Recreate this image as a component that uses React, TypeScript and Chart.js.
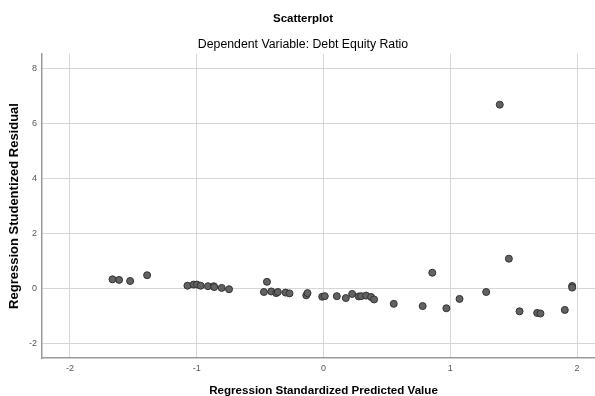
import React, { useEffect, useRef } from "react";
import { Chart, registerables } from "chart.js";

Chart.register(...registerables);

// Regression Standardized Predicted Value (x) vs Regression Studentized Residual (y)
const predicted = [
  -1.664, -1.612, -1.525, -1.391, -1.073, -1.024, -0.998, -0.969, -0.911, -0.866,
  -0.862, -0.803, -0.745, -0.446, -0.47, -0.412, -0.373, -0.36, -0.299, -0.268,
  -0.136, -0.126, -0.01, 0.01, 0.105, 0.176, 0.226, 0.278, 0.297, 0.336,
  0.375, 0.399, 0.554, 0.782, 0.858, 0.969, 1.073, 1.283, 1.39, 1.462,
  1.546, 1.685, 1.711, 1.903, 1.961, 1.961,
];
const residual = [
  0.34, 0.32, 0.28, 0.49, 0.11, 0.15, 0.15, 0.11, 0.09, 0.09,
  0.06, 0.03, -0.02, 0.25, -0.12, -0.1, -0.16, -0.12, -0.14, -0.17,
  -0.24, -0.16, -0.29, -0.27, -0.27, -0.34, -0.19, -0.28, -0.27, -0.25,
  -0.3, -0.39, -0.55, -0.63, 0.58, -0.71, -0.37, -0.12, 6.68, 1.09,
  -0.82, -0.88, -0.9, -0.77, 0.1, 0.04,
];
const xTicks = [-2, -1, 0, 1, 2];
const yTicks = [-2, 0, 2, 4, 6, 8];

const titleText = "Scatterplot";
const subtitleText = "Dependent Variable: Debt Equity Ratio";
const xTitle = "Regression Standardized Predicted Value";
const yTitle = "Regression Studentized Residual";

const FONT = "'Liberation Sans', Arial, sans-serif";

export default function App() {
  const ref = useRef<HTMLCanvasElement | null>(null);

  useEffect(() => {
    document.body.style.margin = "0";
    const canvas = ref.current;
    if (!canvas) return;
    const points = predicted.map((x, i) => ({ x, y: residual[i] }));
    const chart = new Chart(canvas, {
      type: "scatter",
      data: {
        datasets: [
          {
            data: points,
            backgroundColor: "#626262",
            borderColor: "#333333",
            borderWidth: 1,
            pointRadius: 3.5,
          },
        ],
      },
      options: {
        responsive: false,
        animation: false,
        devicePixelRatio: 1,
        layout: { padding: { left: 0, right: 4, top: 0, bottom: 0 } },
        plugins: {
          legend: { display: false },
          tooltip: { enabled: false },
          title: {
            display: true,
            text: titleText,
            color: "#000",
            font: { family: FONT, size: 11.5, weight: "bold" },
            padding: { top: 12, bottom: 11 },
          },
          subtitle: {
            display: true,
            text: subtitleText,
            color: "#000",
            font: { family: FONT, size: 12.3, weight: "normal" },
            padding: { top: 0, bottom: 2.4 },
          },
        },
        scales: {
          x: {
            type: "linear",
            min: -2.22,
            max: 2.22,
            afterFit: (s: any) => {
              s.height = 38;
            },
            afterBuildTicks: (s: any) => {
              s.ticks = xTicks.map((v) => ({ value: v }));
            },
            grid: { color: "#d6d6d6", lineWidth: 1, drawTicks: false },
            border: { display: true, color: "#9a9a9a", width: 1.5 },
            ticks: {
              color: "#555",
              font: { family: FONT, size: 9 },
              padding: 5,
              maxRotation: 0,
            },
            title: {
              display: true,
              text: xTitle,
              color: "#000",
              font: { family: FONT, size: 11.6, weight: "bold", lineHeight: 1.2 },
              padding: { top: 0, bottom: -2 },
            },
          },
          y: {
            type: "linear",
            min: -2.515,
            max: 8.52,
            afterFit: (s: any) => {
              s.width = 42;
            },
            afterBuildTicks: (s: any) => {
              s.ticks = yTicks.map((v) => ({ value: v }));
            },
            grid: { color: "#d6d6d6", lineWidth: 1, drawTicks: false },
            border: { display: true, color: "#9a9a9a", width: 1.5 },
            ticks: {
              color: "#555",
              font: { family: FONT, size: 9 },
              padding: 5,
            },
            title: {
              display: true,
              text: yTitle,
              color: "#000",
              font: { family: FONT, size: 13, weight: "bold", lineHeight: 1.2 },
              padding: { top: 7, bottom: 0 },
            },
          },
        },
      },
    });
    return () => chart.destroy();
  }, []);

  return (
    <div
      style={{
        position: "fixed",
        left: 0,
        top: 0,
        width: 595,
        height: 396,
        overflow: "hidden",
        background: "#fff",
      }}
    >
      <canvas ref={ref} width={610} height={396} style={{ display: "block", width: 610, height: 396 }} />
    </div>
  );
}
